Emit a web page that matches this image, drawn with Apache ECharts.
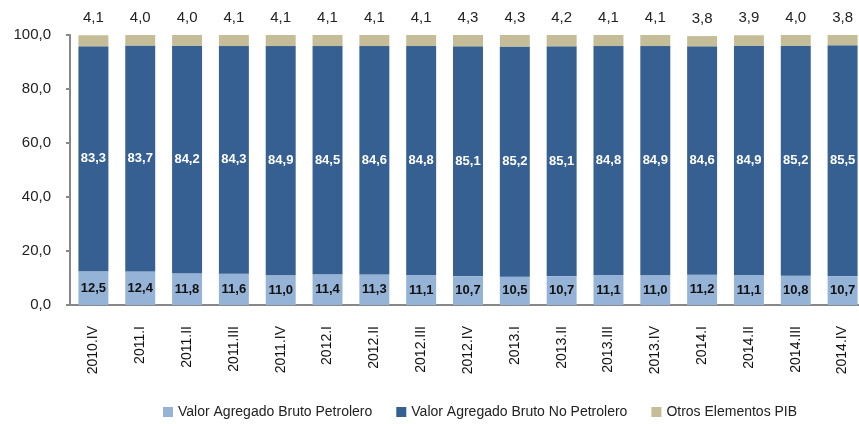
<!DOCTYPE html>
<html>
<head>
<meta charset="utf-8">
<script src="https://cdn.jsdelivr.net/npm/echarts@6/dist/echarts.min.js"></script>
<style>
  html, body { margin: 0; padding: 0; background: #fff; }
  #main { width: 859px; height: 424px; }
</style>
</head>
<body>
<div id="main"></div>
<script>
var categories = ['2010.IV', '2011.I', '2011.II', '2011.III', '2011.IV', '2012.I', '2012.II', '2012.III',
    '2012.IV', '2013.I', '2013.II', '2013.III', '2013.IV', '2014.I', '2014.II', '2014.III', '2014.IV'];
var petrolero = [12.5, 12.4, 11.8, 11.6, 11.0, 11.4, 11.3, 11.1, 10.7, 10.5, 10.7, 11.1, 11.0, 11.2, 11.1, 10.8, 10.7];
var noPetrolero = [83.3, 83.7, 84.2, 84.3, 84.9, 84.5, 84.6, 84.8, 85.1, 85.2, 85.1, 84.8, 84.9, 84.6, 84.9, 85.2, 85.5];
var otros = [4.1, 4.0, 4.0, 4.1, 4.1, 4.1, 4.1, 4.1, 4.3, 4.3, 4.2, 4.1, 4.1, 3.8, 3.9, 4.0, 3.8];
var yTicks = [0, 20, 40, 60, 80, 100];

var font = 'Liberation Sans';
function coma(v) {
    return Number(v).toFixed(1).replace('.', ',');
}

var chart = echarts.init(document.getElementById('main'));

var option = {
    animation: false,
    textStyle: { fontFamily: font },
    grid: {
        left: 70,
        width: 796,
        top: 35,
        bottom: 119,
        containLabel: false,
        outerBoundsMode: 'none'
    },
    legend: {
        bottom: 0,
        left: 158,
        itemWidth: 10,
        itemHeight: 10,
        itemGap: 24,
        icon: 'rect',
        textStyle: { fontSize: 14, color: '#222', fontFamily: font },
        data: ['Valor Agregado Bruto Petrolero', 'Valor Agregado Bruto No Petrolero', 'Otros Elementos PIB']
    },
    xAxis: {
        type: 'category',
        data: categories,
        axisLine: { lineStyle: { color: '#888', width: 2 } },
        axisTick: { show: false },
        axisLabel: {
            rotate: 90,
            margin: 21,
            fontSize: 14,
            color: '#111',
            fontFamily: font
        }
    },
    yAxis: {
        type: 'value',
        min: yTicks[0],
        max: yTicks[yTicks.length - 1],
        interval: 20,
        splitLine: { show: false },
        axisLine: { show: true, lineStyle: { color: '#888', width: 2 } },
        axisTick: { show: true, length: 4, lineStyle: { color: '#888', width: 2 } },
        axisLabel: {
            fontSize: 15,
            color: '#222',
            margin: 19,
            fontFamily: font,
            formatter: function (v) { return coma(v); }
        }
    },
    series: [
        {
            name: 'Valor Agregado Bruto Petrolero',
            type: 'bar',
            stack: 'pib',
            barWidth: '64%',
            itemStyle: { color: '#95B3D7' },
            label: {
                show: true,
                position: 'inside',
                fontSize: 13,
                fontWeight: 'bold',
                color: '#111',
                fontFamily: font,
                formatter: function (p) { return coma(p.value); }
            },
            data: petrolero
        },
        {
            name: 'Valor Agregado Bruto No Petrolero',
            type: 'bar',
            stack: 'pib',
            itemStyle: { color: '#366092' },
            label: {
                show: true,
                position: 'inside',
                fontSize: 13,
                fontWeight: 'bold',
                color: '#fff',
                fontFamily: font,
                formatter: function (p) { return coma(p.value); }
            },
            data: noPetrolero
        },
        {
            name: 'Otros Elementos PIB',
            type: 'bar',
            stack: 'pib',
            itemStyle: { color: '#C4BD97' },
            label: {
                show: true,
                position: 'top',
                distance: 10,
                fontSize: 15,
                color: '#222',
                fontFamily: font,
                formatter: function (p) { return coma(p.value); }
            },
            data: otros
        }
    ]
};

chart.setOption(option);
</script>
</body>
</html>
